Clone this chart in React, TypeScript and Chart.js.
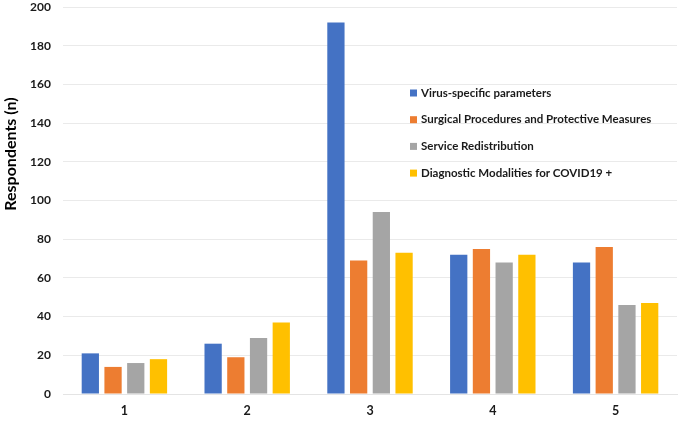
import React, { useEffect, useRef } from "react";
import { Chart, registerables } from "chart.js";

Chart.register(...registerables);

const categories = ["1", "2", "3", "4", "5"];
const seriesNames = [
  "Virus-specific parameters",
  "Surgical Procedures and Protective Measures",
  "Service Redistribution",
  "Diagnostic Modalities for COVID19 +",
];
const virusSpecific = [21, 26, 192, 72, 68];
const surgicalProtective = [14, 19, 69, 75, 76];
const serviceRedistribution = [16, 29, 94, 68, 46];
const diagnosticModalities = [18, 37, 73, 72, 47];
const seriesColors = ["#4472C4", "#ED7D31", "#A5A5A5", "#FFC000"];
const yTicks = [0, 20, 40, 60, 80, 100, 120, 140, 160, 180, 200];
const yTitle = "Respondents (n)";

const FONT = "Lato, 'Open Sans', sans-serif";

const legendPlugin = {
  id: "insideLegend",
  afterDraw(chart: any) {
    const ctx = chart.ctx;
    const x0 = 410;
    const y0 = 93;
    const step = 26.7;
    ctx.save();
    ctx.font = `bold 11.5px ${FONT}`;
    ctx.textBaseline = "middle";
    ctx.textAlign = "left";
    chart.data.datasets.forEach((ds: any, i: number) => {
      const y = y0 + i * step;
      ctx.fillStyle = ds.backgroundColor;
      ctx.fillRect(x0, y - 3.5, 7, 7);
      ctx.fillStyle = "#1A1A1A";
      ctx.fillText(ds.label, x0 + 11, y);
    });
    // y-axis title
    ctx.translate(11, 154);
    ctx.rotate(-Math.PI / 2);
    ctx.font = `bold 16px ${FONT}`;
    ctx.fillStyle = "#000000";
    ctx.textAlign = "center";
    ctx.fillText(yTitle, 0, 0);
    ctx.restore();
  },
};

export default function App() {
  const ref = useRef<HTMLCanvasElement>(null);
  useEffect(() => {
    document.body.style.margin = "0";
    const values = [virusSpecific, surgicalProtective, serviceRedistribution, diagnosticModalities];
    const chart = new Chart(ref.current!, {
      type: "bar",
      data: {
        labels: categories,
        datasets: seriesNames.map((name, i) => ({
          label: name,
          data: values[i],
          backgroundColor: seriesColors[i],
          borderWidth: 0,
          categoryPercentage: 0.74,
          barPercentage: 0.76,
        })),
      },
      options: {
        animation: false,
        responsive: false,
        maintainAspectRatio: false,
        layout: { padding: { top: 7, right: 8, left: 0, bottom: 0 } },
        plugins: {
          legend: { display: false },
          tooltip: { enabled: false },
        },
        scales: {
          x: {
            grid: { display: false, drawTicks: false },
            border: { display: true, color: "#E4E4E4", width: 1 },
            ticks: {
              color: "#1A1A1A",
              font: { family: FONT, size: 12.5, weight: "bold" },
              padding: 9,
            },
            afterFit: (s: any) => {
              s.height = 31;
            },
          },
          y: {
            min: 0,
            max: 200,
            afterBuildTicks: (s: any) => {
              s.ticks = yTicks.map((v) => ({ value: v }));
            },
            grid: { color: "#EAEAEA", drawTicks: false },
            border: { display: false },
            ticks: {
              color: "#1A1A1A",
              font: { family: FONT, size: 12, weight: "bold" },
              padding: 12,
            },
            afterFit: (s: any) => {
              s.width = 63;
              s.paddingTop = 0;
              s.paddingBottom = 0;
            },
          },
        },
      },
      plugins: [legendPlugin],
    });
    return () => chart.destroy();
  }, []);
  return <canvas ref={ref} width={685} height={425} style={{ display: "block" }} />;
}
